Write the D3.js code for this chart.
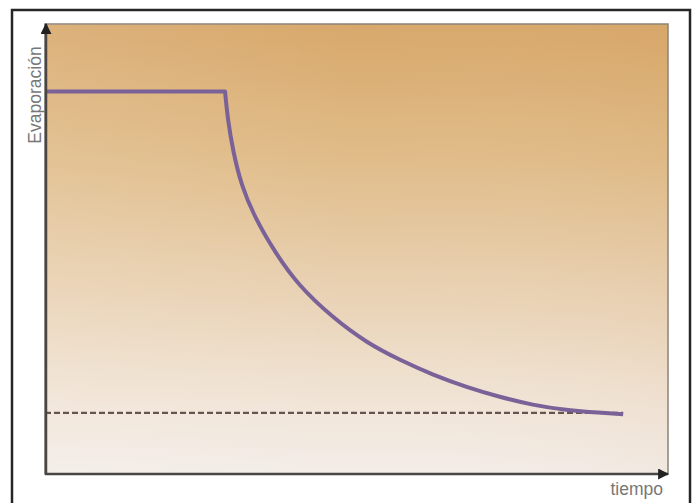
<!DOCTYPE html>
<html><head><meta charset="utf-8">
<script src="https://cdn.jsdelivr.net/npm/d3@7"></script>
<style>html,body{margin:0;padding:0;background:#fff;}svg{display:block;}</style>
</head><body>
<script>
// time (x) and evaporation (y), in arbitrary units
const plateauTime = [0, 28.9];
const plateauValue = [85.0, 85.0];
const decayTime = [28.9, 29.3, 30.2, 31.5, 33.7, 36.9, 40.6, 46.2, 51.7, 57.0, 62.3, 67.7, 73.0, 78.3, 83.6, 89.1, 92.8];
const decayValue = [85.0, 79.1, 71.6, 64.2, 56.9, 49.3, 42.0, 34.7, 29.1, 25.3, 22.0, 19.3, 17.1, 15.3, 14.2, 13.6, 13.3];
const baselineValue = 13.6;
const xLabel = "tiempo";
const yLabel = "Evaporación";

const W = 696, H = 503;
const svg = d3.select("body").append("svg").attr("width", W).attr("height", H);
const defs = svg.append("defs");
const g = defs.append("linearGradient").attr("id","bg").attr("x1",0).attr("y1",0).attr("x2",0).attr("y2",1);
[[0,"#d8a86b"],[0.3,"#e0bc89"],[0.6,"#e9d2b4"],[0.85,"#f1e5d8"],[1,"#f3ede8"]].forEach(([o,c])=>g.append("stop").attr("offset",o).attr("stop-color",c));
const gh = defs.append("linearGradient").attr("id","bgh").attr("x1",0).attr("y1",0).attr("x2",1).attr("y2",0);
gh.append("stop").attr("offset",0).attr("stop-color","#fff").attr("stop-opacity",0.10);
gh.append("stop").attr("offset",0.5).attr("stop-color","#fff").attr("stop-opacity",0);
gh.append("stop").attr("offset",1).attr("stop-color","#c08040").attr("stop-opacity",0.04);
defs.append("marker").attr("id","arr").attr("viewBox","0 0 10 10").attr("refX",9).attr("refY",5)
  .attr("orient","auto-start-reverse").attr("markerUnits","userSpaceOnUse")
  .attr("markerWidth",11).attr("markerHeight",11)
  .append("path").attr("d","M0,0L10,5L0,10Z").attr("fill","#222");

// outer frame
svg.append("rect").attr("x",12).attr("y",10).attr("width",678).attr("height",510)
  .attr("fill","#fff").attr("stroke","#262626").attr("stroke-width",2.5);

const L = 45, R = 668, T = 24, B = 474;
const x = d3.scaleLinear().domain([0,100]).range([L,R]);
const y = d3.scaleLinear().domain([0,100]).range([B,T]);

svg.append("rect").attr("x",L).attr("y",T).attr("width",R-L).attr("height",B-T)
  .attr("fill","url(#bg)").attr("stroke","#8c8279").attr("stroke-width",1.5);
svg.append("rect").attr("x",L).attr("y",T).attr("width",R-L).attr("height",B-T).attr("fill","url(#bgh)");

// dashed baseline
svg.append("line").attr("x1",x(0)).attr("x2",x(decayTime[decayTime.length-1]))
  .attr("y1",y(baselineValue)).attr("y2",y(baselineValue))
  .attr("stroke","#65544f").attr("stroke-width",2.2).attr("stroke-dasharray","6,3");

// curve
const decay = d3.line().x((d,i)=>x(decayTime[i])).y((d,i)=>y(decayValue[i])).curve(d3.curveBasis)(decayTime);
const plateau = d3.line().x((d,i)=>x(plateauTime[i])).y((d,i)=>y(plateauValue[i]))(plateauTime);
svg.append("path").attr("d", plateau + "L" + decay.slice(1))
  .attr("fill","none").attr("stroke","#7a6298").attr("stroke-width",4).attr("stroke-linejoin","round");

// axes
const ax = svg.append("g").attr("transform",`translate(0,${B})`).call(d3.axisBottom(x).ticks(0).tickSize(0));
ax.select(".domain").attr("stroke","#4a4644").attr("stroke-width",2.5).attr("d",`M${L},0H${R}`).attr("marker-end","url(#arr)");
const ay = svg.append("g").attr("transform",`translate(${L+1},0)`).call(d3.axisLeft(y).ticks(0).tickSize(0));
ay.select(".domain").attr("stroke","#4a4644").attr("stroke-width",2.5).attr("d",`M0,${B}V${T}`).attr("marker-end","url(#arr)");

svg.append("text").attr("x",663).attr("y",495).attr("text-anchor","end")
  .attr("font-family","Liberation Sans, Arial, sans-serif").attr("font-size",17.5).attr("fill","#777").text(xLabel);
svg.append("text").attr("transform","translate(41,95) rotate(-90)").attr("text-anchor","middle")
  .attr("font-family","Liberation Sans, Arial, sans-serif").attr("font-size",17.5).attr("fill","#777").text(yLabel);
</script>
</body></html>
